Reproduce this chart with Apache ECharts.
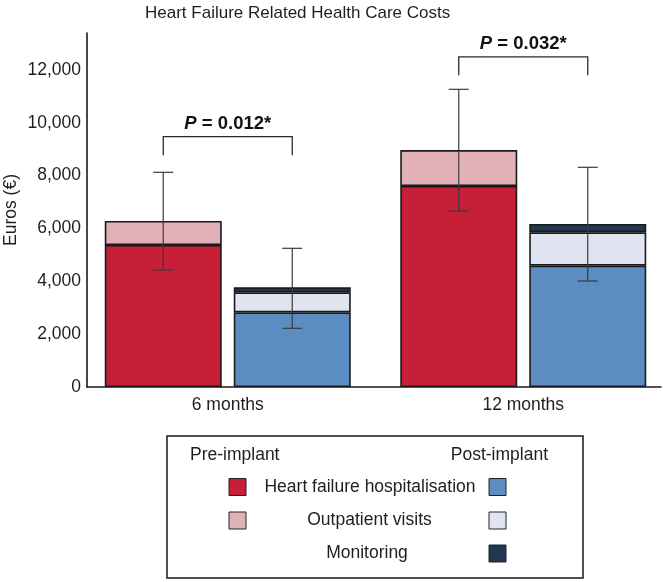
<!DOCTYPE html>
<html>
<head>
<meta charset="utf-8">
<script src="https://cdn.jsdelivr.net/npm/echarts@6/dist/echarts.min.js"></script>
<style>html,body{margin:0;padding:0;background:#fff}#c{width:665px;height:582px}</style>
</head>
<body>
<div id="c"></div>
<script>
// ---- data ----
var categories = ['6 months', '12 months'];
var preHospital = [5375, 7608];
var preOutpatient = [908, 1362];
var postHospital = [2827, 4591];
var postOutpatient = [757, 1264];
var postMonitoring = [190, 315];
var preErrLow = [4428, 6662];
var preErrHigh = [8127, 11268];
var postErrLow = [2222, 4012];
var postErrHigh = [5250, 8316];
var bracketValue = [9475, 12500];
var pLabels = ['0.012*', '0.032*'];
var yMin = 0, yMax = 13400, yInterval = 2000;

// ---- style ----
var FONT = '"Liberation Sans", Arial, Helvetica, sans-serif';
var TXT = '#1e1e1e';
var C_RED = '#C81F38', C_PINK = '#E2B1B8', C_BLUE = '#5B8DC3', C_LIGHT = '#E0E4F1', C_NAVY = '#243752';
var BAR_W = 117, BAR_GAP = 12;
var OFF = (BAR_W + BAR_GAP) / 2;
var BORDER = '#1a1a1a';

var errData = [];
for (var i = 0; i < categories.length; i++) {
  errData.push([i, preErrLow[i], preErrHigh[i], -1]);
  errData.push([i, postErrLow[i], postErrHigh[i], 1]);
}
var bracketData = categories.map(function (c, i) { return [i, bracketValue[i]]; });

function barItem(color) {
  return { color: color, borderColor: BORDER, borderWidth: 1.6 };
}

var chart = echarts.init(document.getElementById('c'), null, { renderer: 'canvas' });
var option = {
  animation: false,
  textStyle: { fontFamily: FONT },
  title: {
    text: 'Heart Failure Related Health Care Costs',
    left: 140, top: 0,
    textStyle: { fontFamily: FONT, fontSize: 17, fontWeight: 'normal', color: TXT }
  },
  grid: [
    { left: 87, right: 4, top: 33, bottom: 195, outerBoundsMode: 'none', containLabel: false },
    { left: 80, width: 591, top: 33, bottom: 195, outerBoundsMode: 'none', containLabel: false }
  ],
  xAxis: [
    { gridIndex: 0, type: 'value', min: 0, max: 1,
      axisLine: { show: true, lineStyle: { color: BORDER, width: 1.6 } },
      axisTick: { show: false }, axisLabel: { show: false }, splitLine: { show: false } },
    { gridIndex: 1, type: 'category', data: categories,
      axisLine: { show: false }, axisTick: { show: false },
      axisLabel: { color: TXT, fontSize: 17.5, fontFamily: FONT, margin: 9 } }
  ],
  yAxis: [
    { gridIndex: 0, type: 'value', min: yMin, max: yMax, interval: yInterval,
      name: 'Euros (€)', nameLocation: 'middle', nameGap: 67, nameMoveOverlap: false,
      nameTextStyle: { color: TXT, fontSize: 17.5, fontFamily: FONT },
      axisLine: { show: true, lineStyle: { color: BORDER, width: 1.6 } },
      axisTick: { show: false }, splitLine: { show: false },
      axisLabel: { color: TXT, fontSize: 17.5, fontFamily: FONT, margin: 6, showMaxLabel: false,
        formatter: function (v) { return v.toLocaleString('en-US'); } } },
    { gridIndex: 1, type: 'value', min: yMin, max: yMax, interval: yInterval, show: false,
      splitLine: { show: false } }
  ],
  series: [
    { name: 'Pre HF hospitalisation', type: 'bar', stack: 'pre', xAxisIndex: 1, yAxisIndex: 1,
      data: preHospital, barWidth: BAR_W, barGap: (BAR_GAP / BAR_W * 100) + '%', itemStyle: barItem(C_RED) },
    { name: 'Pre outpatient', type: 'bar', stack: 'pre', xAxisIndex: 1, yAxisIndex: 1,
      data: preOutpatient, barWidth: BAR_W, barGap: (BAR_GAP / BAR_W * 100) + '%', itemStyle: barItem(C_PINK) },
    { name: 'Post HF hospitalisation', type: 'bar', stack: 'post', xAxisIndex: 1, yAxisIndex: 1,
      data: postHospital, barWidth: BAR_W, barGap: (BAR_GAP / BAR_W * 100) + '%', itemStyle: barItem(C_BLUE) },
    { name: 'Post outpatient', type: 'bar', stack: 'post', xAxisIndex: 1, yAxisIndex: 1,
      data: postOutpatient, barWidth: BAR_W, barGap: (BAR_GAP / BAR_W * 100) + '%', itemStyle: barItem(C_LIGHT) },
    { name: 'Post monitoring', type: 'bar', stack: 'post', xAxisIndex: 1, yAxisIndex: 1,
      data: postMonitoring, barWidth: BAR_W, barGap: (BAR_GAP / BAR_W * 100) + '%', itemStyle: barItem(C_NAVY) },
    { name: 'Error', type: 'custom', xAxisIndex: 1, yAxisIndex: 1, z: 10,
      encode: { x: 0, y: [1, 2] }, data: errData,
      renderItem: function (params, api) {
        var c = api.value(0), lo = api.value(1), hi = api.value(2), side = api.value(3);
        var pLo = api.coord([c, lo]), pHi = api.coord([c, hi]);
        var x = pLo[0] + side * OFF;
        var st = { stroke: '#3a3a3a', lineWidth: 1.2 };
        return { type: 'group', children: [
          { type: 'line', shape: { x1: x, y1: pLo[1], x2: x, y2: pHi[1] }, style: st },
          { type: 'line', shape: { x1: x - 10, y1: pLo[1], x2: x + 10, y2: pLo[1] }, style: st },
          { type: 'line', shape: { x1: x - 10, y1: pHi[1], x2: x + 10, y2: pHi[1] }, style: st }
        ] };
      } },
    { name: 'Bracket', type: 'custom', xAxisIndex: 1, yAxisIndex: 1, z: 10,
      encode: { x: 0, y: 1 }, data: bracketData,
      renderItem: function (params, api) {
        var c = api.value(0), v = api.value(1);
        var label = pLabels[params.dataIndex];
        var p = api.coord([c, v]);
        var xl = p[0] - OFF, xr = p[0] + OFF, y = p[1];
        return { type: 'group', children: [
          { type: 'polyline', shape: { points: [[xl, y + 18.5], [xl, y], [xr, y], [xr, y + 18.5]] },
            style: { stroke: '#2a2a2a', lineWidth: 1.3, fill: null } },
          { type: 'text', x: p[0], y: y - 3,
            style: { text: '{i|P} = ' + label, align: 'center', verticalAlign: 'bottom',
              fill: '#111', fontSize: 18.5, fontWeight: 'bold', fontFamily: FONT,
              rich: { i: { fontStyle: 'italic', fontWeight: 'bold', fontSize: 18.5, fontFamily: FONT, fill: '#111' } } } }
        ] };
      } }
  ],
  graphic: [
    { type: 'rect', shape: { x: 167, y: 436, width: 416, height: 142 },
      style: { fill: '#fff', stroke: BORDER, lineWidth: 1.5 } },
    { type: 'text', x: 190, y: 455, style: { text: 'Pre-implant', fill: TXT, font: '17.5px ' + FONT, verticalAlign: 'middle' } },
    { type: 'text', x: 548, y: 455, style: { text: 'Post-implant', fill: TXT, font: '17.5px ' + FONT, align: 'right', verticalAlign: 'middle' } },
    { type: 'rect', shape: { x: 229, y: 478.5, width: 17, height: 17 }, style: { fill: C_RED, stroke: '#222', lineWidth: 1 } },
    { type: 'rect', shape: { x: 229, y: 512, width: 17, height: 17 }, style: { fill: C_PINK, stroke: '#222', lineWidth: 1 } },
    { type: 'rect', shape: { x: 489, y: 478.5, width: 17, height: 17 }, style: { fill: C_BLUE, stroke: '#222', lineWidth: 1 } },
    { type: 'rect', shape: { x: 489, y: 512, width: 17, height: 17 }, style: { fill: C_LIGHT, stroke: '#222', lineWidth: 1 } },
    { type: 'rect', shape: { x: 489, y: 545, width: 17, height: 17 }, style: { fill: C_NAVY, stroke: '#222', lineWidth: 1 } },
    { type: 'text', x: 370, y: 487, style: { text: 'Heart failure hospitalisation', fill: TXT, font: '17.5px ' + FONT, align: 'center', verticalAlign: 'middle' } },
    { type: 'text', x: 369.5, y: 520.5, style: { text: 'Outpatient visits', fill: TXT, font: '17.5px ' + FONT, align: 'center', verticalAlign: 'middle' } },
    { type: 'text', x: 367, y: 553.5, style: { text: 'Monitoring', fill: TXT, font: '17.5px ' + FONT, align: 'center', verticalAlign: 'middle' } }
  ]
};
chart.setOption(option);
</script>
</body>
</html>
